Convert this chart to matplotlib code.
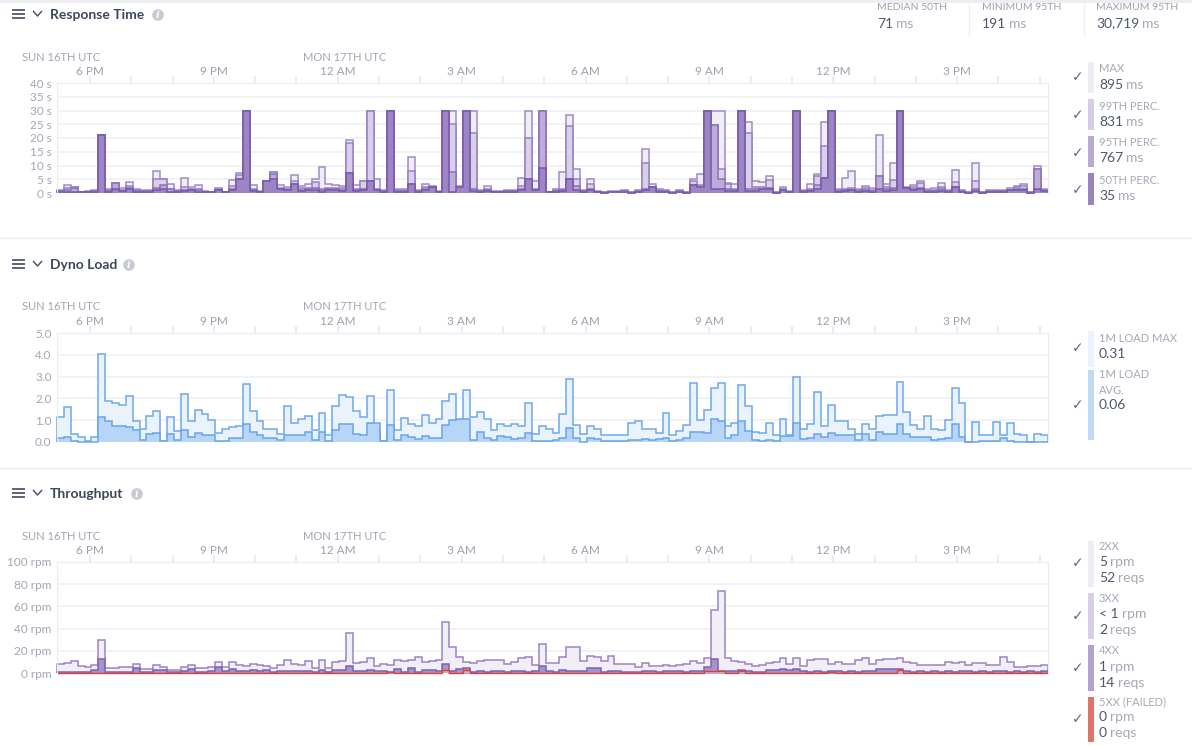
import numpy as np
import matplotlib.pyplot as plt
from matplotlib.patches import Rectangle, Circle

plt.rcParams['font.family'] = ['Lato', 'DejaVu Sans']

# ---------------- data (10 minute bins, 24 h, starting Sun 17:12 UTC) ----------------
start_hour = 17.2          # hours after Sun 00:00 UTC
bin_hours = 1 / 6

# Response time (seconds)
rt_max = [1.1, 2.8, 2.1, 0.4, 0.6, 1.0, 21.0, 1.3, 3.5, 1.7, 3.9, 1.3,
          1.0, 1.1, 7.9, 5.0, 3.2, 1.0, 5.3, 2.1, 2.8, 0.6, 0.4, 1.7,
          0.4, 4.6, 7.2, 30.0, 2.8, 0.6, 4.2, 7.5, 2.8, 2.1, 6.4, 2.4,
          3.2, 5.0, 9.3, 3.2, 2.8, 2.4, 19.2, 2.8, 4.2, 30.0, 5.0, 1.0,
          30.0, 1.3, 1.3, 13.0, 1.0, 3.2, 2.4, 0.6, 30.0, 30.0, 2.4, 30.0,
          30.0, 1.0, 2.4, 0.6, 0.6, 1.0, 1.0, 5.3, 30.0, 4.2, 30.0, 0.4,
          1.3, 7.5, 28.2, 8.6, 1.0, 5.0, 0.6, 0.2, 0.6, 0.6, 1.0, 0.2,
          1.0, 15.9, 3.2, 1.3, 1.0, 0.2, 1.0, 0.2, 5.0, 6.8, 30.0, 30.0,
          30.0, 3.5, 3.2, 30.0, 26.0, 4.2, 3.9, 6.1, 0.2, 2.1, 0.6, 30.0,
          1.0, 3.2, 6.8, 26.0, 30.0, 1.3, 5.3, 7.9, 1.3, 2.4, 1.7, 21.0,
          3.2, 10.9, 30.0, 2.1, 2.8, 4.2, 1.3, 1.7, 3.5, 1.0, 8.2, 1.0,
          0.2, 10.8, 0.2, 1.0, 1.0, 1.0, 1.7, 2.4, 3.2, 0.2, 9.7, 1.3]
rt_p99 = [0.9, 1.7, 2.1, 0.3, 0.5, 0.8, 21.0, 1.0, 3.5, 1.2, 2.7, 1.0,
          0.8, 0.9, 5.0, 5.0, 1.3, 0.8, 2.1, 1.5, 1.3, 0.5, 0.3, 1.3,
          0.3, 2.4, 6.4, 30.0, 1.5, 0.5, 4.2, 7.5, 2.0, 1.5, 4.2, 1.7,
          2.0, 3.9, 1.3, 2.0, 2.0, 1.7, 18.1, 1.5, 4.2, 30.0, 1.3, 0.8,
          30.0, 1.0, 1.0, 8.0, 0.8, 2.1, 2.1, 0.5, 30.0, 25.0, 2.1, 30.0,
          22.0, 0.8, 1.5, 0.5, 0.5, 0.8, 0.8, 2.4, 20.0, 1.5, 30.0, 0.3,
          1.0, 1.3, 24.2, 5.0, 0.8, 3.2, 0.5, 0.2, 0.5, 0.5, 0.8, 0.2,
          0.8, 10.9, 2.1, 1.0, 0.8, 0.2, 0.8, 0.2, 4.2, 2.8, 30.0, 24.6,
          8.6, 3.2, 1.3, 30.0, 22.0, 2.1, 2.1, 4.6, 0.2, 1.5, 0.5, 30.0,
          0.8, 1.3, 6.1, 17.0, 30.0, 1.0, 1.3, 1.7, 1.0, 1.7, 1.2, 6.1,
          2.1, 4.6, 30.0, 1.7, 2.1, 3.5, 1.0, 1.2, 2.1, 0.8, 3.9, 0.8,
          0.2, 4.2, 0.2, 0.8, 0.8, 0.8, 1.2, 2.1, 2.4, 0.2, 8.6, 1.0]
rt_p95 = [0.7, 1.2, 1.7, 0.3, 0.4, 0.6, 21.0, 0.8, 3.5, 0.9, 2.0, 0.8,
          0.6, 0.7, 2.0, 2.8, 1.3, 0.6, 1.2, 1.2, 1.0, 0.4, 0.3, 1.1,
          0.3, 1.5, 5.0, 30.0, 1.0, 0.4, 4.2, 7.0, 1.5, 1.2, 3.2, 1.2,
          1.5, 2.0, 1.0, 1.5, 1.5, 1.2, 7.2, 1.0, 1.5, 4.5, 1.0, 0.6,
          30.0, 0.8, 0.8, 3.2, 0.6, 1.3, 2.1, 0.4, 30.0, 7.5, 2.1, 30.0,
          1.3, 0.6, 1.0, 0.4, 0.4, 0.6, 0.6, 1.5, 5.0, 1.0, 30.0, 0.3,
          0.8, 1.0, 5.0, 2.5, 0.6, 1.5, 0.4, 0.1, 0.4, 0.4, 0.6, 0.1,
          0.6, 1.5, 2.1, 0.8, 0.6, 0.1, 0.6, 0.1, 2.8, 2.1, 30.0, 24.6,
          5.0, 1.5, 1.0, 30.0, 1.5, 1.5, 1.5, 2.0, 0.1, 1.2, 0.4, 30.0,
          0.6, 1.0, 3.0, 5.3, 30.0, 0.8, 1.0, 1.2, 0.8, 1.2, 0.9, 6.1,
          1.5, 2.0, 30.0, 1.7, 1.5, 2.0, 0.8, 0.9, 1.5, 0.6, 2.1, 0.6,
          0.1, 1.5, 0.1, 0.6, 0.6, 0.6, 1.0, 1.5, 1.5, 0.1, 8.6, 0.8]
rt_p50 = [0.5, 0.4, 0.3, 0.2, 0.2, 0.3, 21.0, 0.4, 1.3, 0.6, 1.3, 0.4,
          0.3, 0.3, 1.1, 1.3, 0.5, 0.3, 0.7, 1.0, 0.5, 0.2, 0.2, 1.1,
          0.2, 1.1, 5.0, 30.0, 0.9, 0.2, 4.2, 5.0, 1.3, 1.0, 3.2, 0.8,
          1.1, 1.0, 0.5, 1.1, 1.1, 0.8, 7.2, 0.7, 1.1, 4.2, 1.0, 0.3,
          30.0, 0.4, 0.5, 3.2, 0.3, 1.1, 2.1, 0.2, 30.0, 0.4, 2.1, 30.0,
          0.6, 0.3, 0.6, 0.2, 0.2, 0.3, 0.3, 1.0, 5.0, 1.0, 9.0, 0.2,
          0.4, 0.6, 5.0, 1.0, 0.3, 1.0, 0.2, 0.1, 0.2, 0.2, 0.3, 0.1,
          0.3, 1.1, 2.1, 0.4, 0.3, 0.1, 0.3, 0.1, 2.8, 2.1, 30.0, 1.5,
          1.3, 0.9, 0.6, 30.0, 0.9, 0.9, 1.3, 1.3, 0.1, 1.0, 0.2, 30.0,
          0.3, 0.6, 1.3, 5.3, 30.0, 0.4, 0.6, 1.0, 0.4, 0.6, 0.4, 1.3,
          0.8, 1.1, 30.0, 1.7, 1.0, 1.3, 0.4, 0.4, 0.8, 0.3, 2.1, 0.3,
          0.1, 0.7, 0.1, 0.3, 0.3, 0.3, 1.0, 1.0, 1.0, 0.1, 1.3, 0.6]

# Dyno load
load_max = [1.13, 1.59, 0.35, 0.24, 0.05, 0.24, 4.05, 1.89, 1.77, 1.71, 2.12, 0.98,
            0.61, 1.21, 1.44, 0.03, 1.13, 0.49, 2.21, 0.98, 1.48, 1.30, 1.02, 0.43,
            0.61, 0.67, 0.72, 2.67, 1.44, 0.98, 0.61, 0.61, 0.37, 1.66, 0.89, 1.07,
            1.21, 0.56, 1.34, 0.31, 1.66, 2.17, 2.05, 1.44, 1.16, 2.12, 0.56, 0.06,
            2.40, 0.56, 1.11, 0.84, 0.75, 1.25, 0.89, 1.07, 1.89, 2.21, 0.26, 2.40,
            1.16, 1.39, 1.07, 0.56, 0.84, 0.75, 0.84, 0.72, 1.77, 0.37, 0.72, 0.61,
            0.43, 1.30, 2.87, 0.76, 0.35, 0.72, 0.61, 0.31, 0.31, 0.31, 0.31, 0.89,
            0.98, 0.61, 0.61, 0.40, 1.34, 0.31, 0.49, 0.76, 2.72, 1.02, 1.48, 2.49,
            2.72, 0.72, 0.89, 2.63, 1.63, 0.47, 0.43, 0.89, 0.31, 1.07, 0.31, 2.99,
            0.61, 0.84, 2.31, 0.72, 1.71, 0.98, 0.98, 0.61, 0.35, 0.84, 0.61, 1.21,
            1.25, 1.25, 2.76, 1.39, 0.76, 0.61, 1.21, 0.61, 0.56, 1.02, 2.49, 1.80,
            0.00, 0.93, 0.31, 0.31, 0.93, 0.31, 0.89, 0.35, 0.31, 0.00, 0.35, 0.31]
load_avg = [0.18, 0.24, 0.06, 0.02, 0.00, 0.02, 1.16, 0.98, 0.75, 0.72, 0.67, 0.56,
            0.11, 0.35, 0.43, 0.03, 0.38, 0.11, 0.56, 0.24, 0.43, 0.31, 0.31, 0.06,
            0.06, 0.20, 0.20, 0.84, 0.47, 0.34, 0.20, 0.20, 0.11, 0.34, 0.31, 0.31,
            0.47, 0.11, 0.47, 0.06, 0.56, 0.84, 0.84, 0.38, 0.31, 0.89, 0.89, 0.06,
            0.79, 0.11, 0.34, 0.24, 0.15, 0.29, 0.20, 0.20, 0.79, 1.02, 1.07, 1.07,
            0.11, 0.47, 0.20, 0.11, 0.29, 0.24, 0.15, 0.20, 0.43, 0.06, 0.06, 0.06,
            0.11, 0.20, 0.66, 0.20, 0.02, 0.18, 0.14, 0.06, 0.06, 0.03, 0.06, 0.09,
            0.11, 0.15, 0.11, 0.15, 0.20, 0.06, 0.11, 0.20, 0.47, 0.47, 0.43, 1.07,
            0.98, 0.20, 0.34, 0.98, 0.52, 0.11, 0.06, 0.11, 0.06, 0.26, 0.26, 0.89,
            0.15, 0.20, 0.38, 0.24, 0.43, 0.31, 0.31, 0.31, 0.11, 0.38, 0.11, 0.47,
            0.38, 0.38, 0.84, 0.38, 0.24, 0.24, 0.24, 0.11, 0.15, 0.20, 0.84, 0.24,
            0.00, 0.02, 0.06, 0.06, 0.06, 0.20, 0.06, 0.02, 0.00, 0.02, 0.02, 0.02]

# Throughput (rpm)
tp_2xx = [7.8, 8.7, 10.5, 6.3, 5.4, 6.9, 29.4, 4.5, 4.5, 5.4, 5.4, 7.8,
          3.6, 3.6, 6.9, 5.4, 2.7, 2.7, 5.4, 6.9, 4.5, 4.5, 5.4, 9.6,
          5.4, 9.6, 6.9, 6.3, 7.8, 6.9, 6.3, 4.5, 6.9, 11.4, 7.8, 6.9,
          10.5, 4.5, 11.4, 4.5, 9.6, 10.5, 35.7, 8.7, 9.6, 13.2, 6.3, 7.8,
          6.9, 11.4, 10.5, 11.4, 14.1, 9.6, 10.5, 11.4, 45.6, 23.1, 14.1, 9.6,
          8.7, 10.5, 11.4, 11.4, 11.4, 7.8, 9.6, 13.2, 14.1, 6.9, 25.8, 8.7,
          8.7, 14.1, 23.1, 23.1, 10.5, 15.0, 14.1, 10.5, 15.0, 7.8, 7.8, 7.8,
          5.4, 8.7, 6.3, 6.3, 6.9, 6.3, 6.9, 7.8, 10.5, 8.7, 13.2, 56.5,
          73.6, 13.2, 10.5, 9.6, 7.8, 6.3, 6.9, 8.7, 9.6, 13.2, 7.8, 13.2,
          6.3, 11.4, 12.3, 12.3, 7.8, 9.6, 7.8, 7.8, 11.4, 13.2, 7.8, 11.4,
          12.3, 12.3, 13.2, 9.6, 8.7, 6.9, 6.9, 6.9, 6.9, 9.6, 8.7, 9.6,
          6.9, 8.7, 8.7, 6.9, 6.9, 14.1, 9.6, 5.4, 5.4, 6.3, 6.3, 6.9]
tp_3xx = [0, 0, 0, 0, 0, 0, 0.5, 0, 0, 0, 0, 0,
          0, 0, 0, 0, 0, 0, 0, 0, 0, 0, 0, 0,
          0, 0, 0, 0, 0, 0, 0, 0, 0, 0, 0, 0,
          0, 0, 0, 0, 0, 0, 0, 0, 0, 0, 0, 0,
          0, 0, 0, 0, 0, 0, 0, 0, 0.5, 0, 0, 0,
          0, 0, 0, 0, 0, 0, 0, 0, 0, 0, 0, 0,
          0, 0, 0, 0, 0, 0, 0, 0, 0, 0, 0, 0,
          0, 0, 0, 0, 0, 0, 0, 0, 0, 0, 0, 0,
          0, 0, 0, 0, 0, 0, 0, 0, 0, 0, 0, 0,
          0, 0, 0, 0, 0, 0, 0, 0, 0, 0, 0, 0,
          0, 0, 0, 0, 0, 0, 0, 0, 0, 0, 0, 0,
          0, 0, 0, 0, 0, 0, 0, 0, 0, 0, 0, 0]
tp_4xx = [1.2, 0.6, 0.6, 0.6, 0.6, 2.7, 12.3, 0.6, 0.6, 0.6, 0.6, 4.5,
          0.6, 0.6, 2.7, 2.7, 0.6, 0.6, 1.5, 3.6, 0.6, 0.6, 1.5, 5.1,
          1.5, 3.6, 2.0, 2.0, 2.7, 1.5, 2.7, 0.6, 1.5, 1.5, 1.5, 1.5,
          1.5, 0.6, 2.7, 0.6, 2.7, 2.7, 6.3, 1.5, 1.5, 2.7, 1.5, 1.5,
          0.6, 3.6, 0.6, 4.5, 0.6, 2.7, 2.7, 1.5, 7.8, 1.5, 3.6, 4.5,
          0.6, 1.5, 0.6, 1.5, 1.5, 0.6, 1.5, 1.5, 0.6, 1.5, 6.0, 1.5,
          0.6, 2.4, 1.5, 1.5, 1.5, 4.2, 4.2, 0.6, 1.5, 1.5, 0.6, 0.6,
          0.6, 1.5, 1.5, 0.6, 1.5, 1.5, 1.5, 0.6, 1.5, 1.5, 5.1, 13.0,
          1.5, 1.5, 1.5, 2.4, 1.5, 0.6, 0.6, 2.4, 2.4, 3.3, 2.4, 3.3,
          1.5, 0.6, 1.5, 0.6, 1.5, 1.5, 0.6, 1.5, 0.6, 1.5, 1.5, 3.3,
          3.3, 3.3, 3.3, 1.5, 0.6, 1.5, 0.6, 1.5, 0.6, 1.5, 0.6, 1.5,
          1.5, 0.6, 1.5, 0.6, 1.5, 1.5, 0.6, 1.5, 0.6, 1.5, 0.6, 1.5]
tp_5xx = [0, 0, 0, 0, 0, 0, 0, 0, 0, 0, 0, 0,
          0, 0, 0, 0, 0, 0, 0, 0, 0, 0, 0, 0,
          0, 0, 0, 0, 0, 0, 0, 0, 0, 0, 0, 0,
          0, 0, 0, 0, 0, 0, 0, 0, 0, 0, 0, 0,
          1.0, 0, 0, 0, 0, 0, 0, 0, 2.4, 0, 0, 2.4,
          0, 0, 0, 0, 0, 0, 0, 0, 0, 0, 0, 0,
          0, 0, 0, 0, 0, 0, 0, 0, 0, 0, 0, 0,
          0, 0, 0, 0, 0, 0, 0, 0, 0, 0, 1.5, 1.5,
          1.5, 0, 0, 1.8, 0, 0, 0, 0, 0, 0, 0, 0,
          0, 0, 0, 0, 1.0, 0, 0, 0, 0, 0, 0, 0,
          0, 0, 2.4, 0, 0, 0, 0, 0, 0, 0, 0, 0,
          0, 0, 0, 0, 0, 0, 0, 0, 0, 0, 0, 0]

tick_hours = [18, 21, 24, 27, 30, 33, 36, 39]
tick_labels = ['6 PM', '9 PM', '12 AM', '3 AM', '6 AM', '9 AM', '12 PM', '3 PM']
day_labels = ['SUN 16TH UTC', 'MON 17TH UTC']

stats = [('MEDIAN 50TH', '71', 'ms'), ('MINIMUM 95TH', '191', 'ms'),
         ('MAXIMUM 95TH', '30,719', 'ms')]

# ---------------- layout ----------------
W, H = 1192, 746
fig = plt.figure(figsize=(W / 100, H / 100), dpi=100)
fig.patch.set_facecolor('white')

ov = fig.add_axes([0, 0, 1, 1], zorder=5)
ov.set_xlim(0, W)
ov.set_ylim(H, 0)
ov.axis('off')
renderer = fig.canvas.get_renderer()

DARK = '#4F586B'
GREY = '#A3A9B6'
TITLE = '#3D475B'
GRID = '#EEF0F5'

n_bins = len(rt_max)
edges = start_hour + np.arange(n_bins + 1) * bin_hours


def px_axes(x0, y0, x1, y1):
    return fig.add_axes([x0 / W, 1 - y1 / H, (x1 - x0) / W, (y1 - y0) / H])


def style_axes(ax, ymax, step, labels):
    ax.set_xlim(edges[0], edges[-1])
    ax.set_ylim(0, ymax)
    ax.set_yticks(np.arange(0, ymax + step / 2, step))
    ax.set_yticklabels(labels)
    ax.yaxis.grid(True, color=GRID, lw=1.2)
    ax.set_axisbelow(True)
    ax.xaxis.tick_top()
    ax.set_xticks(tick_hours)
    ax.set_xticklabels(tick_labels)
    ax.set_xticks(np.arange(18, 42), minor=True)
    ax.tick_params(axis='x', which='both', length=5, color='#E6E9EF', width=1.2,
                   labelsize=8.5, labelcolor='#9AA1B0', pad=-1)
    ax.tick_params(axis='y', length=0, labelsize=8.5, labelcolor='#A0A6B4', pad=4)
    for s in ['left', 'right', 'top']:
        ax.spines[s].set_color('#EAECF1')
    ax.spines['bottom'].set_visible(False)


def step(ax, vals, fill, edge, lw=1.1):
    ax.stairs(vals, edges, fill=True, color=fill, lw=0)
    ax.stairs(vals, edges, fill=False, color=edge, lw=lw, clip_on=False)


def header(y, title, ix):
    for dy in (-4, 0, 4):
        ov.plot([12, 25], [y + dy, y + dy], color='#4E5870', lw=1.3, solid_capstyle='butt')
    ov.plot([33.5, 37.5, 41.5], [y - 2.5, y + 2, y - 2.5], color='#4E5870', lw=1.1)
    ov.text(50, y + 1, title, fontsize=10, fontweight='bold', color=TITLE, va='center')
    ov.add_patch(Circle((ix, y + 1), 5.8, color='#C6CAD3', lw=0))
    ov.text(ix, y + 1.5, 'i', fontsize=7, fontweight='bold', color='white',
            ha='center', va='center', family='DejaVu Serif', style='italic')


def value_text(x, y, num, unit, size=10):
    t = ov.text(x, y, num, fontsize=size, color=DARK, va='center')
    if unit:
        bb = t.get_window_extent(renderer)
        ov.text(bb.x1 + 3, y, unit, fontsize=size, color=GREY, va='center')


def legend(bar_y0, bar_y1, color, check_y, lines):
    ov.text(1078, check_y, '\u2713', fontsize=10, color='#56698F', ha='center',
            va='center', family='DejaVu Sans')
    ov.add_patch(Rectangle((1088, bar_y0), 6, bar_y1 - bar_y0, color=color, lw=0))
    for yy, txt, num, unit in lines:
        if txt:
            ov.text(1099, yy, txt, fontsize=8, color=GREY, va='center')
        else:
            value_text(1099, yy, num, unit)


def day_text(y):
    ov.text(22, y + 1.5, day_labels[0], fontsize=8, color='#A0A6B4', va='center')
    ov.text(303, y + 1.5, day_labels[1], fontsize=8, color='#A0A6B4', va='center')


# top shadow and separators
ov.plot([0, W], [0.8, 0.8], color='#ECEDF0', lw=2)
ov.plot([0, W], [238, 238], color='#E9EBEF', lw=1)
ov.plot([0, W], [468, 468], color='#E9EBEF', lw=1)

# ---------------- Response Time ----------------
header(14, 'Response Time', 158)
for i, (lab, num, unit) in enumerate(stats):
    x = [877, 982, 1096][i]
    ov.text(x, 7, lab, fontsize=7.5, color='#9AA1B0', va='center')
    value_text(x, 23.5, num, unit)
ov.plot([969, 969], [0, 36], color='#EEF0F3', lw=1)
ov.plot([1084, 1084], [0, 36], color='#EEF0F3', lw=1)
day_text(56)

ax1 = px_axes(57, 83, 1048, 193)
style_axes(ax1, 40, 5, ['%d s' % v for v in range(0, 41, 5)])
step(ax1, rt_max, '#F1EDF7', '#A08AC9')
step(ax1, rt_p99, '#D9CFE8', '#9882C4')
step(ax1, rt_p95, '#BDACD7', '#8B71BA')
step(ax1, rt_p50, '#9C85C2', '#7759A8')

legend(62, 93, '#EFEBF5', 77, [(68, 'MAX', None, None), (85, None, '895', 'ms')])
legend(99, 130, '#D6CCE5', 115, [(106, '99TH PERC.', None, None), (122, None, '831', 'ms')])
legend(136, 167, '#BAA9D4', 153, [(143, '95TH PERC.', None, None), (158, None, '767', 'ms')])
legend(173, 205, '#9B82BF', 190, [(180, '50TH PERC.', None, None), (196, None, '35', 'ms')])

# ---------------- Dyno Load ----------------
header(264, 'Dyno Load', 129)
day_text(305)
ax2 = px_axes(57, 333, 1048, 442)
style_axes(ax2, 5, 1, ['%.1f' % v for v in range(0, 6)])
step(ax2, load_max, '#EAF3FC', '#6DA8EE')
step(ax2, load_avg, '#B7D5F6', '#68A4EC')

legend(331, 367, '#EAF3FD', 348, [(338, '1M LOAD MAX', None, None), (354, None, '0.31', None)])
legend(370, 440, '#C0DAF6', 405, [(375, '1M LOAD', None, None), (390, 'AVG.', None, None),
                                   (405, None, '0.06', None)])

# ---------------- Throughput ----------------
header(493, 'Throughput', 137)
day_text(535)
ax3 = px_axes(57, 562, 1048, 673)
style_axes(ax3, 100, 20, ['%d rpm' % v for v in range(0, 101, 20)])
step(ax3, tp_2xx, '#F1EEF6', '#9C83C3')
step(ax3, tp_3xx, '#DCD2E9', '#A891CB')
step(ax3, tp_4xx, '#A892CA', '#7E63AD')
step(ax3, tp_5xx, '#F3A3A3', '#E03C3C', lw=1.0)

legend(541, 587, '#EFECF4', 563, [(547, '2XX', None, None), (562, None, '5', 'rpm'),
                                   (578, None, '52', 'reqs')])
legend(593, 639, '#D8CEE6', 616, [(599, '3XX', None, None), (614, None, '< 1', 'rpm'),
                                   (630, None, '2', 'reqs')])
legend(645, 691, '#B3A1CF', 668, [(651, '4XX', None, None), (667, None, '1', 'rpm'),
                                   (683, None, '14', 'reqs')])
legend(697, 742, '#E0716D', 719, [(702, '5XX (FAILED)', None, None), (717, None, '0', 'rpm'),
                                   (733, None, '0', 'reqs')])

fig.savefig('out.png', dpi=100, facecolor='white')
